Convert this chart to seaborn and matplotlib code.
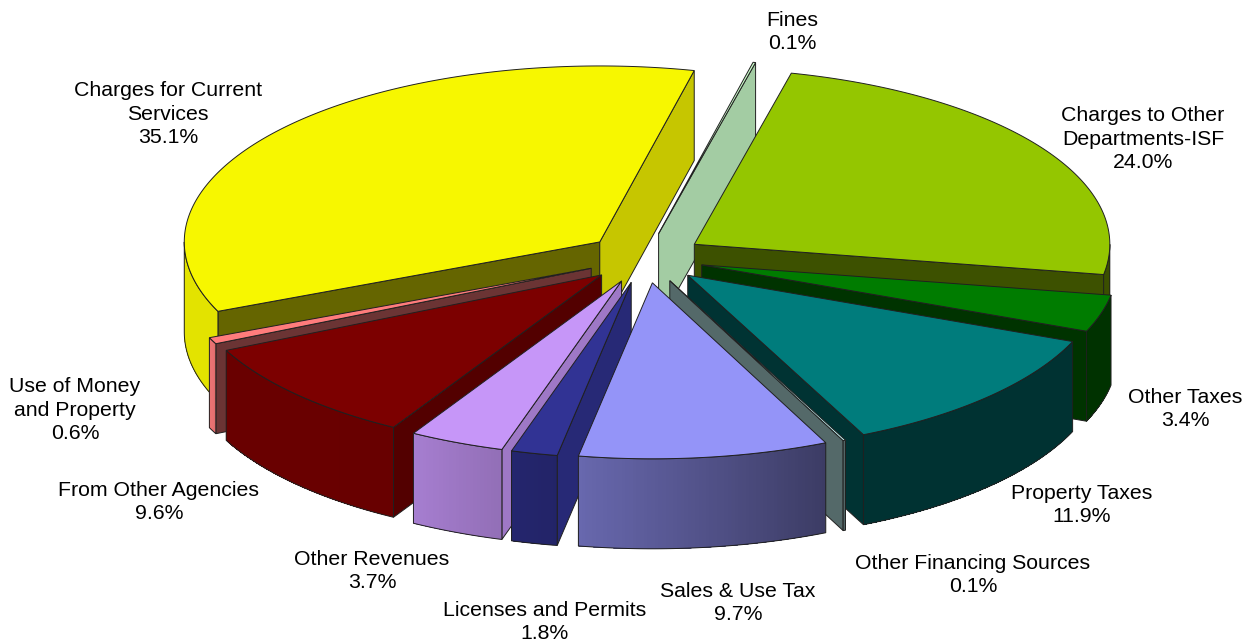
import numpy as np
import matplotlib
matplotlib.use("Agg")
import matplotlib.pyplot as plt
from matplotlib.patches import Polygon
from matplotlib.colors import to_rgb
import seaborn as sns

# ---- data (clockwise from the first slice)
categories = ["Charges to Other\nDepartments-ISF", "Other Taxes", "Property Taxes",
              "Other Financing Sources", "Sales & Use Tax", "Licenses and Permits",
              "Other Revenues", "From Other Agencies", "Use of Money\nand Property",
              "Charges for Current\nServices", "Fines"]
values = [24.0, 3.4, 11.9, 0.1, 9.7, 1.8, 3.7, 9.6, 0.6, 35.1, 0.1]

# ---- styles
top_hex = ["#94C600", "#007C00", "#007C7C", "#CCFFFF", "#9494F8", "#313394",
           "#C696F8", "#7C0000", "#FF7C7C", "#F7F700", "#CCFFCC"]
side_shade = [0.41, 0.41, 0.41, 0.41, 0.41, 0.80, 0.80, 0.67, 0.42, 0.41, 0.80]
end_shade = [0.41, 0.41, 0.41, 0.41, 0.41, 0.80, 0.80, 0.67, 0.42, 0.80, 0.80]
draw_order = [9, 10, 0, 1, 8, 2, 7, 6, 5, 3, 4]
label_xy = [(1143, 139), (1185, 409), (1082, 505), (973, 575), (738, 603), (545, 622),
            (372, 571), (159, 502), (75, 410), (168, 114), (792, 32)]

# ---- geometry
CX, CY = 645, 258
RX, RY = 415.5, 176
EXPLODE = 59
DEPTH = 90
START = 13.5

sns.set_theme(style="white")
plt.rcParams["font.family"] = ["Liberation Sans", "DejaVu Sans"]
palette = sns.color_palette(top_hex)

fig, ax = plt.subplots(figsize=(12.49, 6.44), dpi=100)
ax.set_position([0, 0, 1, 1])
ax.set_xlim(0, 1249)
ax.set_ylim(644, 0)
ax.axis("off")

EDGE = "#202020"
LW = 0.7


def wall_shade(t):
    return np.interp(t, [90, 155, 190, 197, 210, 244, 246, 270],
                     [0.40, 0.40, 0.70, 0.74, 0.84, 0.85, 0.92, 0.92])


def dark(c, f):
    return tuple(min(1, x * f) for x in to_rgb(c))


fractions = np.array(values) / np.sum(values)
edges = START + 360 * np.concatenate([[0], np.cumsum(fractions)])

for i in draw_order:
    t1, t2 = edges[i], edges[i + 1]
    mid = np.radians((t1 + t2) / 2)
    ox = CX + EXPLODE * np.sin(mid)
    oy = CY - EXPLODE * RY / RX * np.cos(mid)
    col = palette[i]

    def pt(t):
        r = np.radians(t)
        return np.array([ox + RX * np.sin(r), oy - RY * np.cos(r)])

    apex = np.array([ox, oy])
    down = np.array([0, DEPTH])

    # radial walls facing the viewer
    if np.sin(np.radians(t1)) < 0:
        p = pt(t1)
        ax.add_patch(Polygon([apex, p, p + down, apex + down], closed=True,
                             fc=dark(col, side_shade[i]), ec=EDGE, lw=LW))
    if np.sin(np.radians(t2)) > 0:
        p = pt(t2)
        ax.add_patch(Polygon([apex, p, p + down, apex + down], closed=True,
                             fc=dark(col, end_shade[i]), ec=EDGE, lw=LW))

    # outer wall: visible for 90..270 degrees; overlapping strips avoid seams
    lo, hi = max(t1, 90), min(t2, 270)
    if hi > lo:
        ts = np.linspace(lo, hi, max(3, int((hi - lo) * 2) + 1))
        arc = np.array([pt(t) for t in ts])
        for k in range(len(ts) - 1):
            c = dark(col, wall_shade((ts[k] + ts[k + 1]) / 2))
            rest = arc[k:]
            ax.add_patch(Polygon(np.vstack([rest, (rest + down)[::-1]]), closed=True,
                                 fc=c, ec="none"))
        ax.add_patch(Polygon(np.vstack([arc, (arc + down)[::-1]]), closed=True,
                             fc="none", ec=EDGE, lw=LW))

    # top face
    ts = np.linspace(t1, t2, max(3, int((t2 - t1) * 2) + 1))
    top = np.vstack([apex, [pt(t) for t in ts]])
    ax.add_patch(Polygon(top, closed=True, fc=col, ec=EDGE, lw=LW))

for name, v, (x, y) in zip(categories, values, label_xy):
    ax.text(x, y, f"{name}\n{v:.1f}%", ha="center", va="center", fontsize=15.3,
            color="black", linespacing=1.29, multialignment="center")

fig.savefig("out.png", dpi=100, facecolor="white")
